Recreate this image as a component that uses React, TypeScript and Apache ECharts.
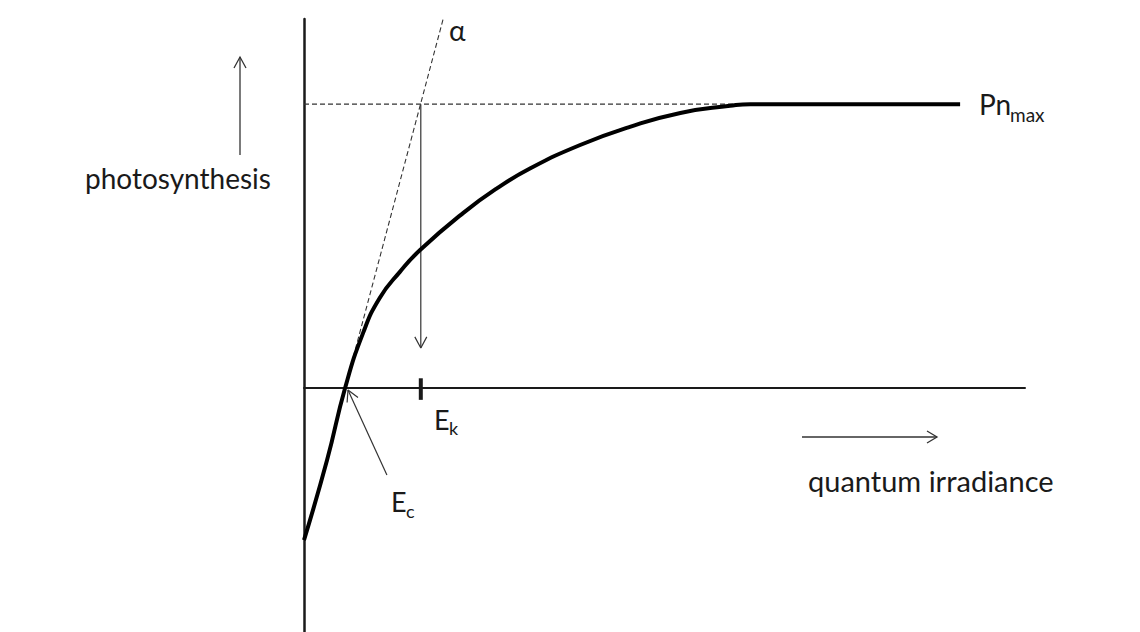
import React, { useEffect, useRef } from "react";
import * as echarts from "echarts";

// Light-response (P–E) curve
const irradiance = [0, 3.2, 5.7, 8.2, 10.5, 13.3, 16.1, 22.1, 26.8, 31.4, 38.3, 45.2, 52.2, 59.1, 61.9, 91];
const photosynthesis = [-53.6, -25.4, 0, 19.4, 31.7, 40.9, 48.6, 61.7, 70.4, 77.4, 85.6, 92.0, 96.9, 99.4, 100, 100];

// Characteristic values
const Ec = 5.7; // compensation irradiance
const Ek = 16.2; // saturation onset
const PnMax = 100;
const alphaTop = [19.3, 130];

const xRange = [0, 100];
const yRange = [-86, 130];

const labels = {
  y: "photosynthesis",
  x: "quantum irradiance",
  alpha: "α",
  pn: "Pn",
  pnSub: "max",
  e: "E",
  kSub: "k",
  cSub: "c",
};

const FONT = "Lato, 'Noto Sans', sans-serif";
const INK = "#1a1a1a";
const GUIDE = "#333";

export default function App() {
  const ref = useRef<HTMLDivElement>(null);

  useEffect(() => {
    if (!ref.current) return;
    const chart = echarts.init(ref.current, undefined, { renderer: "svg" });

    const curve = irradiance.map((x, i) => [x, photosynthesis[i]]);

    const guideLine = (data: number[][], opts: any = {}) => ({
      type: "line",
      data,
      symbol: "none",
      silent: true,
      z: opts.z ?? 2,
      lineStyle: {
        color: opts.color ?? GUIDE,
        width: opts.width ?? 1.2,
        type: opts.dash ?? "solid",
      },
    });

    // arrow from Ec label toward the compensation point
    const ecTail = [11.5, -30.7];
    const ecTip = [Ec + 0.4, -0.7];

    chart.setOption({
      animation: false,
      backgroundColor: "#ffffff",
      grid: { left: 304, right: 115, top: 19, bottom: 0 },
      xAxis: {
        type: "value",
        min: xRange[0],
        max: xRange[1],
        axisLine: { show: true, onZero: true, lineStyle: { color: INK, width: 2 } },
        axisTick: { show: false },
        axisLabel: { show: false },
        splitLine: { show: false },
      },
      yAxis: {
        type: "value",
        min: yRange[0],
        max: yRange[1],
        axisLine: { show: true, onZero: false, lineStyle: { color: INK, width: 2.5 } },
        axisTick: { show: false },
        axisLabel: { show: false },
        splitLine: { show: false },
      },
      series: [
        // Pn max dashed
        guideLine([[0, PnMax], [62, PnMax]], { dash: [5, 3], width: 1.1 }),
        // alpha initial slope dashed
        guideLine([[Ec, 0], alphaTop], { dash: [5, 3], width: 1.1 }),
        // vertical arrow at Ek
        guideLine([[Ek, PnMax], [Ek, 14.1]], { width: 1.2 }),
        guideLine([[Ek - 0.83, 18.0], [Ek, 14.1], [Ek + 0.83, 18.0]], { width: 1.2 }),
        // Ek tick
        guideLine([[Ek, 3.4], [Ek, -4.2]], { width: 4, color: INK }),
        // Ec arrow
        guideLine([ecTail, ecTip], { width: 1.2 }),
        guideLine([[7.49, -3.35], ecTip, [5.98, -5.11]], { width: 1.2 }),
        // main curve
        {
          type: "line",
          data: curve,
          symbol: "none",
          smooth: 0.5,
          silent: true,
          z: 5,
          lineStyle: { color: "#000", width: 4 },
        },
      ],
      graphic: [
        // photosynthesis arrow
        { type: "line", shape: { x1: 240, y1: 155, x2: 240, y2: 57 }, style: { stroke: GUIDE, lineWidth: 1.3 } },
        { type: "polyline", shape: { points: [[234, 68], [240, 57], [246, 68]] }, style: { stroke: GUIDE, lineWidth: 1.3, fill: "none" } },
        // irradiance arrow
        { type: "line", shape: { x1: 802, y1: 437, x2: 937, y2: 437 }, style: { stroke: GUIDE, lineWidth: 1.3 } },
        { type: "polyline", shape: { points: [[927, 431], [937, 437], [927, 443]] }, style: { stroke: GUIDE, lineWidth: 1.3, fill: "none" } },
        // texts
        { type: "text", x: 85, y: 178, style: { text: labels.y, font: `28px ${FONT}`, fill: INK, align: "left", verticalAlign: "middle" } },
        { type: "text", x: 808, y: 480, style: { text: labels.x, font: `29px ${FONT}`, fill: INK, align: "left", verticalAlign: "middle" } },
        { type: "text", x: 449, y: 30, style: { text: labels.alpha, font: `28px ${FONT}`, fill: INK, align: "left", verticalAlign: "middle" } },
        { type: "text", x: 979, y: 104, style: { text: labels.pn, font: `28px ${FONT}`, fill: INK, align: "left", verticalAlign: "middle" } },
        { type: "text", x: 1010, y: 114, style: { text: labels.pnSub, font: `19px ${FONT}`, fill: INK, align: "left", verticalAlign: "middle" } },
        { type: "text", x: 434, y: 419, style: { text: labels.e, font: `27px ${FONT}`, fill: INK, align: "left", verticalAlign: "middle" } },
        { type: "text", x: 449, y: 428, style: { text: labels.kSub, font: `18px ${FONT}`, fill: INK, align: "left", verticalAlign: "middle" } },
        { type: "text", x: 391, y: 501, style: { text: labels.e, font: `27px ${FONT}`, fill: INK, align: "left", verticalAlign: "middle" } },
        { type: "text", x: 406, y: 511, style: { text: labels.cSub, font: `18px ${FONT}`, fill: INK, align: "left", verticalAlign: "middle" } },
      ],
    });

    return () => chart.dispose();
  }, []);

  return (
    <div
      ref={ref}
      style={{ position: "absolute", left: 0, top: 0, width: 1140, height: 632, background: "#fff" }}
    />
  );
}
